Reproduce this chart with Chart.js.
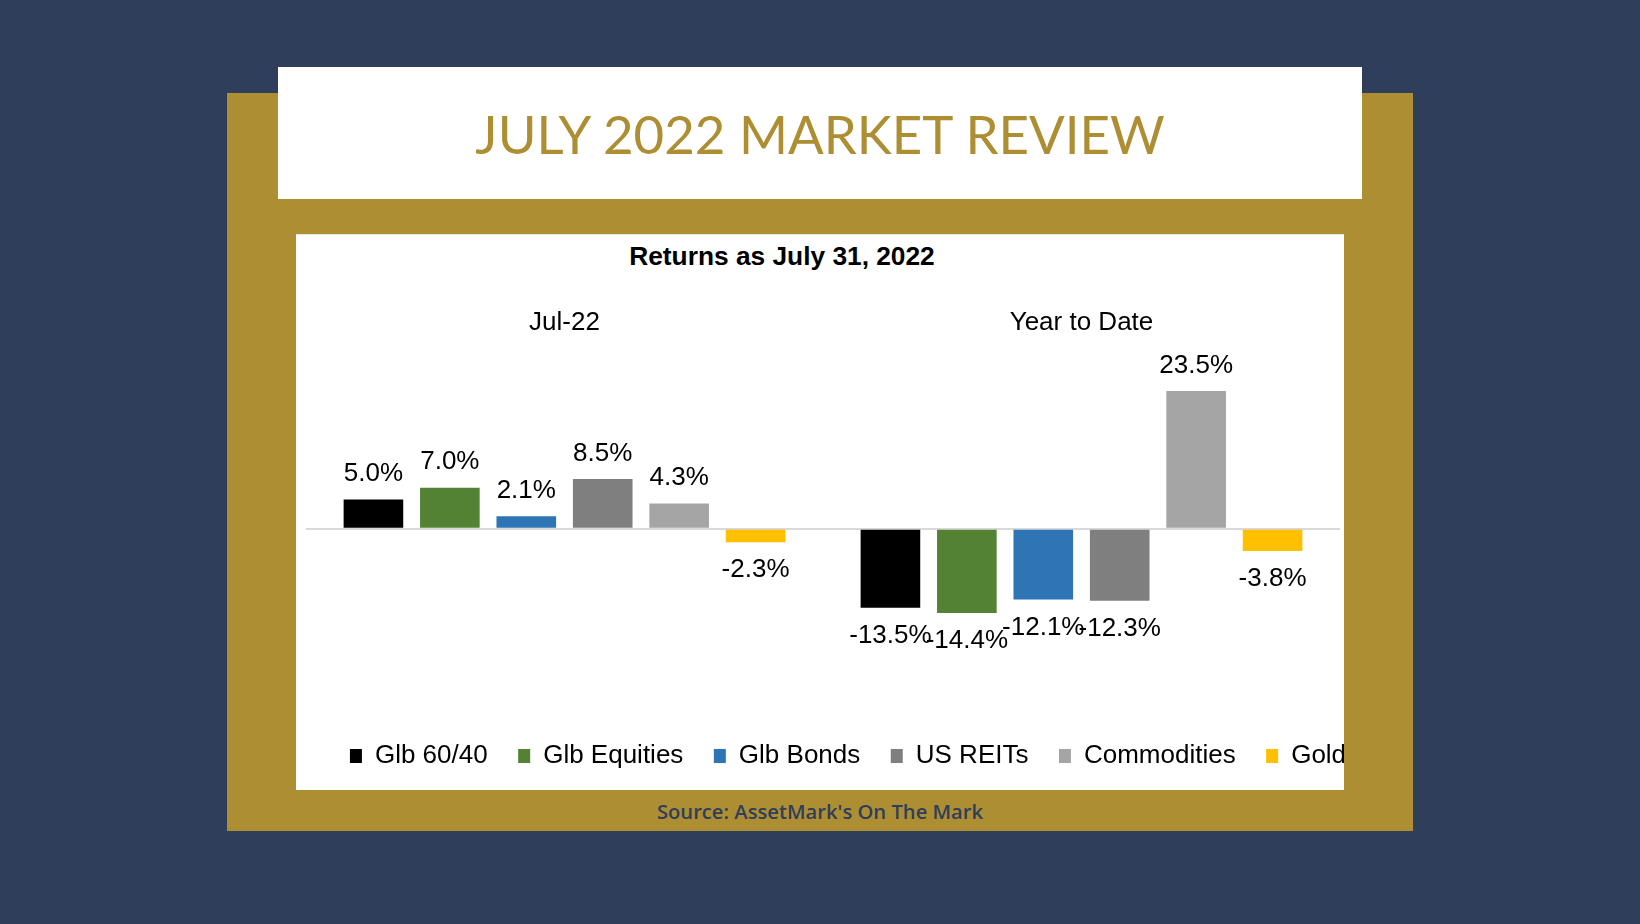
<!DOCTYPE html>
<html>
<head>
<meta charset="utf-8">
<script src="https://cdn.jsdelivr.net/npm/chart.js@4.4.1/dist/chart.umd.min.js"></script>
<style>
  html, body { margin: 0; padding: 0; }
  body { width: 1640px; height: 924px; background: #2f3e5b; position: relative; overflow: hidden; }
  #gold { position: absolute; left: 227px; top: 93px; width: 1186px; height: 738px; background: #ad8e32; }
  #titlebox { position: absolute; left: 278px; top: 67px; width: 1084px; height: 132px; background: #fff;
    display: flex; align-items: center; justify-content: center; }
  #titlebox span { font-family: Lato, "Open Sans", sans-serif; font-weight: 400; font-size: 52.8px; color: #ad8e32; }
  #panel { position: absolute; left: 296px; top: 234px; width: 1048px; height: 556px; background: #fff; overflow: hidden;
    border-top: 1px solid #e4e4e4; box-sizing: border-box; }
  #ctitle { position: absolute; left: 482px; width: 600px; top: 240px; height: 32px; line-height: 32px; text-align: center;
    font-family: "Liberation Sans", Arial, sans-serif; font-weight: bold; font-size: 26.3px; color: #000; }
  #chart { position: absolute; left: -10px; top: 65.3px; }
  #source { position: absolute; left: 520px; width: 600px; top: 798px; height: 26px; line-height: 26px; text-align: center;
    font-family: "Open Sans", Lato, sans-serif; font-weight: 600; font-size: 20.2px; color: #2f3e5b; }
</style>
</head>
<body>
<div id="gold"></div>
<div id="titlebox"><span>JULY 2022 MARKET REVIEW</span></div>
<div id="panel"><canvas id="chart" width="1124" height="479"></canvas></div>
<div id="ctitle">Returns as July 31, 2022</div>
<div id="source">Source: AssetMark's On The Mark</div>
<script>
const categories = ['Jul-22', 'Year to Date'];
const seriesNames = ['Glb 60/40', 'Glb Equities', 'Glb Bonds', 'US REITs', 'Commodities', 'Gold'];
const glb6040 = [5.0, -13.5];
const glbEquities = [7.0, -14.4];
const glbBonds = [2.1, -12.1];
const usReits = [8.5, -12.3];
const commodities = [4.3, 23.5];
const gold = [-2.3, -3.8];
const seriesColors = ['#000000', '#548235', '#2e75b6', '#7f7f7f', '#a5a5a5', '#ffc000'];
const seriesValues = [glb6040, glbEquities, glbBonds, usReits, commodities, gold];

const FONT = '"Liberation Sans", Arial, sans-serif';

const dataLabels = {
  id: 'dataLabels',
  afterDatasetsDraw(chart) {
    const ctx = chart.ctx;
    ctx.save();
    ctx.font = '26px ' + FONT;
    ctx.fillStyle = '#000';
    ctx.textAlign = 'center';
    ctx.textBaseline = 'middle';
    chart.data.datasets.forEach((ds, di) => {
      const meta = chart.getDatasetMeta(di);
      meta.data.forEach((bar, i) => {
        const v = ds.data[i];
        const y = v >= 0 ? bar.y - 25.5 : bar.y + 28;
        ctx.fillText(v.toFixed(1) + '%', bar.x, y);
      });
    });
    ctx.restore();
  }
};

new Chart(document.getElementById('chart'), {
  type: 'bar',
  data: {
    labels: categories,
    datasets: seriesNames.map((name, i) => ({
      label: name,
      data: seriesValues[i],
      backgroundColor: seriesColors[i],
      borderWidth: 0,
      categoryPercentage: 0.887,
      barPercentage: 0.78
    }))
  },
  options: {
    responsive: false,
    animation: false,
    devicePixelRatio: 1,
    layout: { padding: 0 },
    plugins: {
      legend: {
        position: 'bottom',
        labels: {
          boxWidth: 12,
          boxHeight: 14,
          padding: 30.5,
          color: '#000',
          font: { family: FONT, size: 26 }
        }
      },
      title: { display: false },
      tooltip: { enabled: false }
    },
    scales: {
      x: {
        position: 'top',
        grid: { display: false },
        border: { display: false },
        ticks: { color: '#000', font: { family: FONT, size: 26 }, padding: 7.5 }
      },
      y: {
        position: 'left',
        min: -31.4,
        max: 29.8,
        ticks: { display: false, stepSize: 10 },
        grid: {
          drawTicks: false,
          lineWidth: 2,
          color: (c) => (c.tick && c.tick.value === 0) ? '#d9d9d9' : 'rgba(0,0,0,0)'
        },
        border: { display: false },
        afterFit(s) { s.width = 20; }
      },
      y2: {
        position: 'right',
        display: true,
        ticks: { display: false },
        grid: { display: false },
        border: { display: false },
        afterFit(s) { s.width = 70; }
      }
    }
  },
  plugins: [dataLabels]
});
</script>
</body>
</html>
